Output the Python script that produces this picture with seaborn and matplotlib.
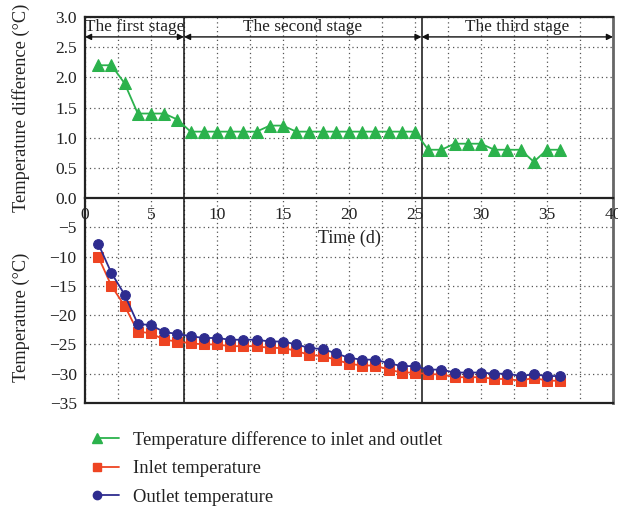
import numpy as np
import pandas as pd
import matplotlib
matplotlib.use("Agg")
import matplotlib.pyplot as plt
from matplotlib.lines import Line2D
from matplotlib.legend_handler import HandlerLine2D
from matplotlib.ticker import MultipleLocator, FormatStrFormatter
import seaborn as sns

days = list(range(1, 37))
temp_diff = [2.2, 2.2, 1.9, 1.4, 1.4, 1.4, 1.3, 1.1, 1.1, 1.1, 1.1, 1.1, 1.1, 1.2, 1.2, 1.1,
             1.1, 1.1, 1.1, 1.1, 1.1, 1.1, 1.1, 1.1, 1.1, 0.8, 0.8, 0.9, 0.9, 0.9, 0.8, 0.8,
             0.8, 0.6, 0.8, 0.8]
inlet = [-10.0, -15.0, -18.4, -22.8, -23.1, -24.2, -24.5, -24.8, -25.0, -25.0, -25.3, -25.3,
         -25.3, -25.6, -25.6, -26.1, -26.8, -27.0, -27.6, -28.3, -28.6, -28.6, -29.3, -29.8,
         -29.8, -30.1, -30.1, -30.6, -30.6, -30.6, -30.9, -30.9, -31.2, -30.7, -31.2, -31.2]
outlet = [-7.8, -12.8, -16.5, -21.5, -21.7, -22.9, -23.2, -23.6, -23.9, -23.9, -24.2, -24.2,
          -24.2, -24.5, -24.5, -25.0, -25.6, -25.8, -26.5, -27.3, -27.6, -27.6, -28.2, -28.7,
          -28.7, -29.3, -29.3, -29.8, -29.8, -29.8, -30.0, -30.0, -30.4, -30.1, -30.4, -30.4]
stage_bounds = [0, 7.5, 25.5, 40]
stage_names = ["The first stage", "The second stage", "The third stage"]
series_labels = ["Temperature difference to inlet and outlet", "Inlet temperature",
                 "Outlet temperature"]

green = "#2bb24c"
red = "#ee4422"
blue = "#2e2c8f"

sns.set_style("white")
plt.rcParams["font.family"] = ["Liberation Serif", "DejaVu Serif"]
plt.rcParams["axes.unicode_minus"] = True

df = pd.DataFrame({"day": days, "diff": temp_diff, "inlet": inlet, "outlet": outlet})

W, H = 618, 513
fig = plt.figure(figsize=(W / 100, H / 100), dpi=100)
L, R = 85, 613
top_y0, mid_y, bot_y = 17, 198, 403
ax_top = fig.add_axes([L / W, 1 - mid_y / H, (R - L) / W, (mid_y - top_y0) / H])
ax_bot = fig.add_axes([L / W, 1 - bot_y / H, (R - L) / W, (bot_y - mid_y) / H])
ax_top.set_zorder(3)
ax_top.patch.set_alpha(0)

sns.lineplot(data=df, x="day", y="diff", ax=ax_top, color=green, marker="^", markersize=8.5,
             markeredgecolor=green, linewidth=1.3, label=series_labels[0], legend=False)
sns.lineplot(data=df, x="day", y="inlet", ax=ax_bot, color=red, marker="s", markersize=6.5,
             markeredgecolor=red, linewidth=1.3, label=series_labels[1], legend=False)
sns.lineplot(data=df, x="day", y="outlet", ax=ax_bot, color=blue, marker="o", markersize=7,
             markeredgecolor=blue, linewidth=1.3, label=series_labels[2], legend=False)

grid_kw = dict(color="#555555", linestyle=(0, (1, 2.5)), linewidth=0.9)
for ax in (ax_top, ax_bot):
    ax.set_xlim(0, 40)
    ax.xaxis.set_major_locator(MultipleLocator(5))
    ax.xaxis.set_minor_locator(MultipleLocator(2.5))
    ax.grid(True, which="both", axis="x", **grid_kw)
    ax.grid(True, which="major", axis="y", **grid_kw)
    ax.set_axisbelow(True)
    for s in ax.spines.values():
        s.set_color("#222222")
        s.set_linewidth(1.6)
    ax.spines["right"].set_color("#666666")
    ax.spines["right"].set_linewidth(2.0)
    for xb in stage_bounds[1:-1]:
        ax.axvline(xb, color="#111111", linewidth=1.1, zorder=1.5)

tick_fs = 12.5
ax_top.set_ylim(0, 3)
ax_top.yaxis.set_major_locator(MultipleLocator(0.5))
ax_top.yaxis.set_major_formatter(FormatStrFormatter("%.1f"))
ax_top.tick_params(axis="y", direction="out", length=4, width=1.2, labelsize=tick_fs,
                   colors="#222222", pad=2)
ax_top.tick_params(axis="x", which="both", direction="inout", length=7, width=1.2,
                   labelsize=tick_fs, colors="#222222", pad=3)
ax_top.set_xlabel("Time (d)", fontsize=13, color="#222222", labelpad=5)
ax_top.set_ylabel("Temperature difference (°C)", fontsize=13.2, color="#222222")
ax_top.yaxis.set_label_coords(-0.105, 0.5)

ax_bot.set_ylim(-35, 0)
ax_bot.set_yticks([-35, -30, -25, -20, -15, -10, -5])
ax_bot.tick_params(axis="y", direction="out", length=4, width=1.2, labelsize=tick_fs,
                   colors="#222222", pad=2)
ax_bot.tick_params(axis="x", which="both", bottom=False, labelbottom=False)
ax_bot.spines["top"].set_visible(False)
ax_bot.set_xlabel("")
ax_bot.set_ylabel("Temperature (°C)", fontsize=13.2, color="#222222")
ax_bot.yaxis.set_label_coords(-0.105, 0.42)

# stage arrows and names
arrow_y = 2.67
for i, name in enumerate(stage_names):
    x0, x1 = stage_bounds[i], stage_bounds[i + 1]
    ax_top.annotate("", xy=(x1, arrow_y), xytext=(x0, arrow_y),
                    arrowprops=dict(arrowstyle="<|-|>", color="#111111", lw=1.0,
                                    mutation_scale=9, shrinkA=0, shrinkB=0))
    ax_top.text((x0 + x1) / 2, 2.84, name, ha="center", va="center", fontsize=12.4,
                color="#222222")


class LeftMarkerHandler(HandlerLine2D):
    def create_artists(self, legend, orig_handle, xdescent, ydescent, width, height,
                       fontsize, trans):
        arts = super().create_artists(legend, orig_handle, xdescent, ydescent, width,
                                      height, fontsize, trans)
        for a in arts:
            if isinstance(a, Line2D):
                a.set_markevery([0])
        return arts


handles = [
    Line2D([], [], color=green, marker="^", markersize=7, linewidth=1.3),
    Line2D([], [], color=red, marker="s", markersize=5.5, linewidth=1.3),
    Line2D([], [], color=blue, marker="o", markersize=6, linewidth=1.3),
]
fig.legend(handles, series_labels, loc="upper left", bbox_to_anchor=(97 / W, 1 - 431 / H),
           frameon=False, fontsize=13.4, handlelength=1.2, handletextpad=0.75,
           labelspacing=0.62, borderpad=0, borderaxespad=0, numpoints=1,
           handler_map={Line2D: LeftMarkerHandler()}, labelcolor="#222222")

fig.savefig("out.png", dpi=100)
